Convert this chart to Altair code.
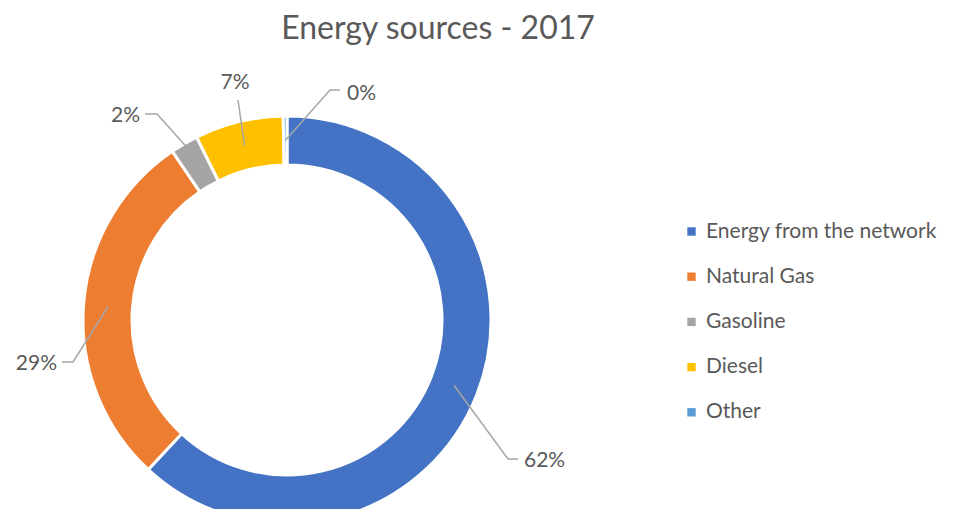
import altair as alt
import pandas as pd
import numpy as np

# ---- data ----
categories = ["Energy from the network", "Natural Gas", "Gasoline", "Diesel", "Other"]
values = [61.9, 28.6, 2.2, 7.0, 0.3]
labels = ["62%", "29%", "2%", "7%", "0%"]
colors = ["#4472C4", "#ED7D31", "#A5A5A5", "#FFC000", "#5B9BD5"]
title_text = "Energy sources - 2017"

# ---- layout (pixels, chart coordinates) ----
W, H = 937, 501
CX, CY = 279, 312
R_OUT, R_IN = 204, 155
R_MID = (R_OUT + R_IN) / 2
FONT = "Lato"
TXT = "#595959"

# per slice: leader start radius, leader bend/end points and label anchor, relative to centre
label_layout = [
    dict(r0=R_MID, pts=[(221, 139), (231, 139)], lab=(237, 141), align="left"),
    dict(r0=R_MID, pts=[(-214, 42), (-225, 42)], lab=(-230, 44), align="right"),
    dict(r0=202, pts=[(-130, -206), (-142, -206)], lab=(-147, -204), align="right"),
    dict(r0=R_MID, pts=[(-49, -220)], lab=(-52, -237), align="center"),
    dict(r0=R_MID, pts=[(43, -230), (53, -230)], lab=(60, -226), align="left"),
]

df = pd.DataFrame({"cat": categories, "value": values, "idx": range(len(values)), "label": labels})

total = sum(values)
cum = np.cumsum([0] + values)
line_rows, text_rows = [], []
for i, lay in enumerate(label_layout):
    mid = (cum[i] + cum[i + 1]) / 2 / total * 2 * np.pi
    sx = CX + lay["r0"] * np.sin(mid)
    sy = CY - lay["r0"] * np.cos(mid)
    pts = [(sx, sy)] + [(CX + dx, CY + dy) for dx, dy in lay["pts"]]
    for k, (px, py) in enumerate(pts):
        line_rows.append(dict(cat=categories[i], step=k, x=px, y=py))
    text_rows.append(dict(cat=categories[i], label=labels[i], x=CX + lay["lab"][0],
                          y=CY + lay["lab"][1], align=lay["align"]))
lines_df = pd.DataFrame(line_rows)
text_df = pd.DataFrame(text_rows)

xs = alt.Scale(domain=[0, W], range=[0, W])
ys = alt.Scale(domain=[0, H], range=[0, H])

arcs = alt.Chart(df).mark_arc(radius=R_OUT, radius2=R_IN, stroke="white", strokeWidth=3).encode(
    theta=alt.Theta("value:Q", stack=True),
    order=alt.Order("idx:Q"),
    color=alt.Color(
        "cat:N",
        scale=alt.Scale(domain=categories, range=colors),
        sort=categories,
        legend=alt.Legend(
            title=None, orient="none", legendX=673, legendY=213,
            symbolType="square", symbolSize=70, symbolStrokeWidth=0,
            labelFontSize=21, labelFont=FONT, labelColor=TXT,
            rowPadding=23.2, labelOffset=4, labelLimit=400,
        ),
    ),
    x=alt.value(CX),
    y=alt.value(CY),
)

leaders = alt.Chart(lines_df).mark_line(color="#A6A6A6", strokeWidth=1.5).encode(
    x=alt.X("x:Q", scale=xs, axis=None),
    y=alt.Y("y:Q", scale=ys, axis=None),
    detail="cat:N",
    order="step:Q",
)

def text_layer(al):
    return alt.Chart(text_df).transform_filter(alt.datum.align == al).mark_text(
        align=al, baseline="middle", fontSize=21, font=FONT, color=TXT
    ).encode(
        x=alt.X("x:Q", scale=xs, axis=None),
        y=alt.Y("y:Q", scale=ys, axis=None),
        text="label:N",
    )

title = alt.Chart(pd.DataFrame({"t": [title_text]})).mark_text(
    align="center", baseline="middle", fontSize=32, font=FONT, color=TXT
).encode(x=alt.value(430), y=alt.value(21), text="t:N")

chart = alt.layer(arcs, leaders, text_layer("left"), text_layer("right"), text_layer("center"), title).properties(
    width=W, height=H, autosize=alt.AutoSizeParams(type="none"), padding=0
).configure_view(stroke=None)

chart.save("out.html", embed_options={"renderer": "svg", "actions": False})
